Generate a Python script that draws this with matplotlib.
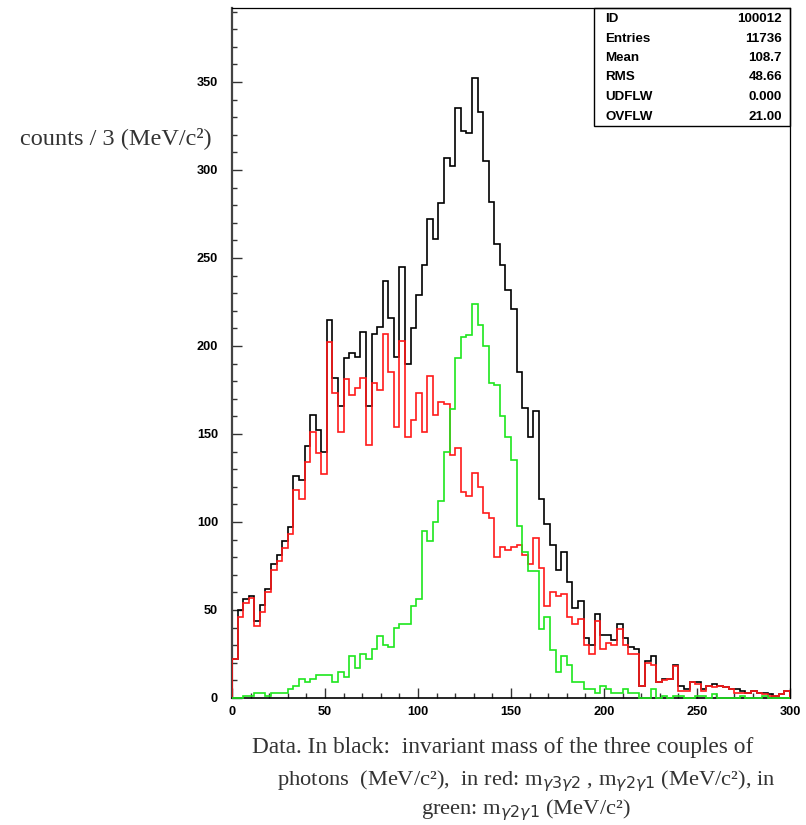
import numpy as np
import matplotlib
matplotlib.use("Agg")
import matplotlib.pyplot as plt
from matplotlib.patches import Rectangle

# ---------------- data (3 MeV bins, 0..300) ----------------
bin_edges_mev = np.arange(0, 301, 3)

black_counts = [22, 50, 56, 58, 44, 53, 62, 76, 81, 89,
                97, 126, 124, 143, 161, 152, 140, 215, 182, 166,
                193, 196, 194, 208, 166, 207, 211, 237, 216, 194,
                245, 190, 210, 229, 246, 272, 261, 281, 307, 302,
                335, 322, 321, 352, 333, 305, 282, 258, 246, 232,
                221, 185, 165, 148, 163, 113, 99, 87, 73, 83,
                66, 51, 55, 34, 30, 48, 36, 36, 33, 42,
                34, 29, 28, 7, 21, 24, 9, 11, 11, 19,
                7, 5, 9, 9, 5, 7, 8, 7, 6, 5,
                5, 4, 3, 4, 3, 3, 2, 1, 2, 4]

red_counts = [22, 46, 54, 57, 41, 49, 60, 73, 78, 85,
              93, 118, 113, 134, 151, 139, 127, 202, 173, 151,
              181, 172, 176, 182, 144, 179, 175, 207, 185, 154,
              203, 148, 158, 173, 151, 183, 161, 168, 167, 138,
              142, 117, 115, 128, 120, 105, 102, 80, 86, 84,
              86, 87, 81, 76, 91, 74, 52, 60, 58, 59,
              46, 42, 45, 30, 25, 44, 28, 31, 30, 39,
              30, 25, 25, 7, 20, 19, 9, 10, 11, 18,
              4, 4, 9, 8, 4, 7, 6, 7, 6, 5,
              3, 3, 3, 4, 3, 2, 1, 1, 2, 4]

green_counts = [0, 0, 1, 1, 3, 3, 1, 3, 3, 3,
                5, 7, 11, 9, 11, 13, 13, 13, 9, 15,
                12, 24, 17, 25, 22, 28, 35, 30, 29, 40,
                42, 42, 52, 56, 95, 89, 100, 112, 140, 164,
                193, 205, 206, 224, 212, 200, 179, 178, 160, 148,
                135, 98, 83, 72, 72, 39, 46, 27, 15, 24,
                19, 9, 9, 5, 5, 3, 7, 5, 3, 3,
                5, 3, 3, 0, 0, 5, 0, 1, 0, 1,
                1, 0, 0, 1, 1, 0, 2, 0, 0, 0,
                0, 1, 0, 0, 0, 1, 0, 0, 0, 0]

x_ticks = [0, 50, 100, 150, 200, 250, 300]
y_ticks = [0, 50, 100, 150, 200, 250, 300, 350]

stat_labels = ["ID", "Entries", "Mean", "RMS", "UDFLW", "OVFLW"]
stat_values = ["100012", "11736", "108.7", "48.66", "0.000", "21.00"]

ylabel_text = "counts / 3 (MeV/c²)"
caption_lines = [
    "Data. In black:  invariant mass of the three couples of",
    r"photons  (MeV/c²),  in red: m$_{\gamma3\gamma2}$ , m$_{\gamma2\gamma1}$ (MeV/c²), in",
    r"green: m$_{\gamma2\gamma1}$ (MeV/c²)",
]

# ---------------- figure ----------------
plt.rcParams["mathtext.fontset"] = "dejavusans"
W, H = 806, 825
fig = plt.figure(figsize=(W / 100, H / 100), dpi=100)

def fx(px):
    return px / W

def fy(py):
    return 1 - py / H

ax_l, ax_r, ax_t, ax_b = 232, 790, 8, 698
ax = fig.add_axes([fx(ax_l), fy(ax_b), fx(ax_r - ax_l), (ax_b - ax_t) / H])

ax.stairs(black_counts, bin_edges_mev, color="black", lw=1.2, zorder=3)
ax.stairs(red_counts, bin_edges_mev, color="#ff1a1a", lw=1.2, zorder=4)
ax.stairs(green_counts, bin_edges_mev, color="#1ee61e", lw=1.2, zorder=5, clip_on=False)

ax.set_xlim(0, 300)
ax.set_ylim(0, 392)

ax.set_xticks(x_ticks)
ax.set_yticks(y_ticks)
ax.set_xticks(np.arange(0, 301, 10), minor=True)
ax.set_yticks(np.arange(0, 391, 10), minor=True)
ax.tick_params(axis="both", which="major", direction="in", length=7.2, width=1.0,
               color="#333333", labelsize=9.2)
ax.tick_params(axis="both", which="minor", direction="in", length=3.8, width=1.0,
               color="#333333")
ax.tick_params(axis="y", which="major", pad=10)
ax.tick_params(axis="x", which="major", pad=6)
ax.tick_params(top=False, right=False, which="both")
for lab in ax.get_xticklabels() + ax.get_yticklabels():
    lab.set_fontfamily(["Liberation Sans", "DejaVu Sans"])
    lab.set_fontweight("bold")

ax.spines["left"].set_linewidth(1.6)
ax.spines["left"].set_color("#444444")
ax.spines["bottom"].set_linewidth(1.2)
ax.spines["bottom"].set_color("black")
ax.spines["top"].set_linewidth(0.9)
ax.spines["right"].set_linewidth(0.9)

# ---------------- stats box ----------------
bx_l, bx_r, bx_t, bx_b = 594, 790, 8, 126
fig.patches.append(Rectangle((fx(bx_l), fy(bx_b)), fx(bx_r - bx_l), (bx_b - bx_t) / H,
                             transform=fig.transFigure, fill=False, lw=1.0,
                             edgecolor="black", zorder=10))
row_y = [19, 38.5, 58, 77.5, 97, 116.5]
for lab, val, ry in zip(stat_labels, stat_values, row_y):
    fig.text(fx(605), fy(ry), lab, ha="left", va="center", fontsize=9.6,
             fontweight="bold", family=["Liberation Sans", "DejaVu Sans"])
    fig.text(fx(782), fy(ry), val, ha="right", va="center", fontsize=9.6,
             fontweight="bold", family=["Liberation Sans", "DejaVu Sans"])

# ---------------- labels ----------------
serif = ["Liberation Serif", "DejaVu Serif"]
fig.text(fx(20), fy(138), ylabel_text, ha="left", va="center", fontsize=17.5,
         family=serif, color="#333333")

fig.text(fx(252), fy(748), caption_lines[0], ha="left", va="center", fontsize=16.8,
         family=serif, color="#333333")
fig.text(fx(277), fy(781), caption_lines[1], ha="left", va="center", fontsize=16.2,
         family=serif, color="#333333")
fig.text(fx(421), fy(810), caption_lines[2], ha="left", va="center", fontsize=16.2,
         family=serif, color="#333333")

fig.savefig("out.png", dpi=100)
